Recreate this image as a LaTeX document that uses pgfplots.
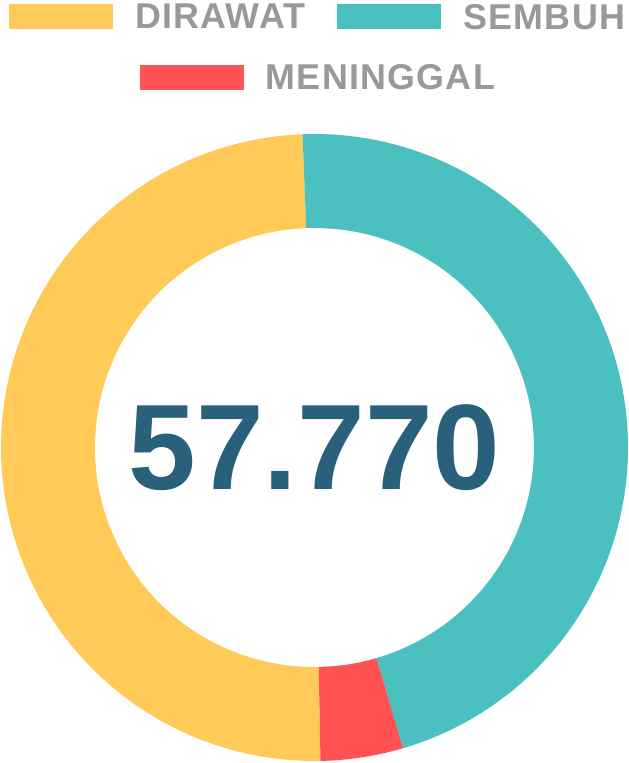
\documentclass[border=0pt]{standalone}
\usepackage{fontspec}
\setmainfont{Liberation Sans}
\newfontfamily\legendfont[LetterSpace=3.5]{Liberation Sans}
\usepackage{pgfplots}
\usepackage{pgfplotstable}
\pgfplotsset{compat=1.18}
\definecolor{dirawat}{RGB}{255,202,87}
\definecolor{sembuh}{RGB}{75,192,192}
\definecolor{meninggal}{RGB}{255,82,82}
\definecolor{legendgray}{RGB}{153,153,153}
\definecolor{totalblue}{RGB}{41,96,124}

\pgfplotstableread{
label value
Dirawat 28710
Sembuh 26605
Meninggal 2455
}\piedata

\begin{document}
\begin{tikzpicture}
\pgfplotstablegetelem{0}{value}\of\piedata \edef\vA{\pgfplotsretval}
\pgfplotstablegetelem{1}{value}\of\piedata \edef\vB{\pgfplotsretval}
\pgfplotstablegetelem{2}{value}\of\piedata \edef\vC{\pgfplotsretval}
\edef\tot{\fpeval{\vA+\vB+\vC}}
\edef\aA{\fpeval{90-178.9}}
\edef\aB{\fpeval{\aA-360*\vA/\tot}}
\edef\aC{\fpeval{\aB-360*\vB/\tot}}
\edef\aD{\fpeval{\aC-360*\vC/\tot}}
\begin{axis}[
  at={(0,0)}, anchor=origin,
  scale only axis, width=627bp, height=627bp,
  xmin=-1, xmax=1, ymin=-1, ymax=1,
  hide axis, clip=false, samples=200,
  legend columns=2,
  legend cell align=left,
  legend image code/.code={\fill[#1] (0bp,-11.9bp) rectangle (104bp,12.9bp);},
  legend style={at={(axis cs:0.0085,1.4147)}, anchor=north, draw=none, fill=none,
    inner sep=0pt, outer sep=0pt, font=\legendfont\fontsize{36}{36}\selectfont\bfseries,
    text=legendgray, nodes={inner sep=0pt},
    /tikz/every odd column/.style={column sep=22bp},
    /tikz/every even column/.style={column sep=32bp}},
]
\addplot[draw=none, fill=dirawat, domain=\aB:\aA] ({cos(x)},{sin(x)}) -- (axis cs:0,0) -- cycle;
\addplot[draw=none, fill=sembuh, domain=\aC:\aB] ({cos(x)},{sin(x)}) -- (axis cs:0,0) -- cycle;
\addplot[draw=none, fill=meninggal, domain=\aD:\aC, forget plot] ({cos(x)},{sin(x)}) -- (axis cs:0,0) -- cycle;
\addplot[draw=none, fill=white, domain=0:360, forget plot] ({0.7*cos(x)},{0.7*sin(x)}) -- cycle;
\legend{DIRAWAT,SEMBUH}
\node[font=\fontsize{122}{122}\selectfont\bfseries, text=totalblue, inner sep=0pt] at (axis cs:0,0) {57.770};
\end{axis}
\begin{axis}[
  at={(0,0)}, anchor=origin,
  scale only axis, width=627bp, height=627bp,
  xmin=-1, xmax=1, ymin=-1, ymax=1,
  hide axis, clip=false,
  legend cell align=left,
  legend image code/.code={\fill[#1] (0bp,-11.9bp) rectangle (104bp,12.9bp);},
  legend style={at={(axis cs:0.009,1.2211)}, anchor=north, draw=none, fill=none,
    inner sep=0pt, outer sep=0pt, font=\legendfont\fontsize{36}{36}\selectfont\bfseries,
    text=legendgray, nodes={inner sep=0pt},
    /tikz/every odd column/.style={column sep=22bp}},
]
\addlegendimage{draw=none, fill=meninggal}
\addlegendentry{MENINGGAL}
\end{axis}
\pgfresetboundingbox
\useasboundingbox (-314.5bp,-315.5bp) rectangle (314.5bp,447.5bp);
\end{tikzpicture}
\end{document}
